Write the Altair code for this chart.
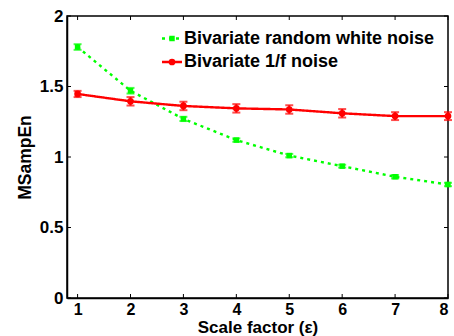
import altair as alt
import pandas as pd

scales = [1, 2, 3, 4, 5, 6, 7, 8]
white_mean = [1.78, 1.47, 1.27, 1.12, 1.01, 0.935, 0.86, 0.805]
white_err = [0.02, 0.02, 0.015, 0.012, 0.012, 0.01, 0.012, 0.012]
pink_mean = [1.447, 1.395, 1.362, 1.345, 1.337, 1.31, 1.29, 1.29]
pink_err = [0.022, 0.03, 0.03, 0.03, 0.03, 0.03, 0.028, 0.028]
series_names = ["Bivariate random white noise", "Bivariate 1/f noise"]
series_colors = ["#00ff00", "#ff0000"]
x_ticks = [1, 2, 3, 4, 5, 6, 7, 8]
y_ticks = [0, 0.5, 1, 1.5, 2]

W, H = 381, 282
FONT = "Liberation Sans"

rows = []
for name, means, errs in [(series_names[0], white_mean, white_err),
                          (series_names[1], pink_mean, pink_err)]:
    for s, m, e in zip(scales, means, errs):
        rows.append({"scale": s, "value": m, "lo": m - e, "hi": m + e, "series": name})
df = pd.DataFrame(rows)
dfw = df[df.series == series_names[0]]
dfp = df[df.series == series_names[1]]

xs = alt.Scale(domain=[0.8, 8], nice=False, zero=False)
ys = alt.Scale(domain=[0, 2], nice=False)

xax = alt.Axis(values=x_ticks, ticks=False, grid=False, labelFont=FONT, labelFontSize=16,
               labelFontWeight="bold", labelColor="black", labelPadding=3, domainColor="black",
               domainWidth=1.5, title="Scale factor (ε)", titleFont=FONT, titleFontSize=17,
               titleFontWeight="bold", titleColor="black", titleY=34, titleBaseline="alphabetic")
yax = alt.Axis(values=y_ticks, ticks=False, grid=False, format=".1~f", labelFont=FONT,
               labelFontSize=17, labelFontWeight="bold", labelColor="black", labelPadding=4,
               domainColor="black", domainWidth=1.5, title="MSampEn", titleFont=FONT,
               titleFontSize=17.5, titleFontWeight="bold", titleColor="black",
               titleX=-37, titleY=141, titleBaseline="alphabetic", titleAlign="center")

base_x = alt.X("scale:Q", scale=xs, axis=xax)
base_y = alt.Y("value:Q", scale=ys, axis=yax)

layers = []
for sub, col, dash, shape, size in [(dfw, series_colors[0], [3, 4], "square", 30),
                                    (dfp, series_colors[1], [1, 0], "circle", 45)]:
    b = alt.Chart(sub)
    layers.append(b.mark_line(color=col, strokeWidth=2.4, strokeDash=dash).encode(x=base_x, y=base_y))
    layers.append(b.mark_rule(color=col, strokeWidth=2).encode(
        x=alt.X("scale:Q", scale=xs), y=alt.Y("lo:Q", scale=ys), y2="hi:Q"))
    layers.append(b.mark_tick(color=col, orient="horizontal", size=8, thickness=2).encode(
        x=alt.X("scale:Q", scale=xs), y=alt.Y("lo:Q", scale=ys)))
    layers.append(b.mark_tick(color=col, orient="horizontal", size=8, thickness=2).encode(
        x=alt.X("scale:Q", scale=xs), y=alt.Y("hi:Q", scale=ys)))
    layers.append(b.mark_point(color=col, filled=True, opacity=1, shape=shape, size=size).encode(
        x=alt.X("scale:Q", scale=xs), y=alt.Y("value:Q", scale=ys)))

# inward ticks (MATLAB style) on all four sides
xt = alt.Chart(pd.DataFrame({"t": x_ticks}))
yt = alt.Chart(pd.DataFrame({"t": y_ticks}))
tick_style = dict(color="black", strokeWidth=1)
layers.append(xt.mark_rule(**tick_style).encode(x=alt.X("t:Q", scale=xs), y=alt.value(H), y2=alt.value(H - 4)))
layers.append(xt.mark_rule(**tick_style).encode(x=alt.X("t:Q", scale=xs), y=alt.value(0), y2=alt.value(4)))
layers.append(yt.mark_rule(**tick_style).encode(y=alt.Y("t:Q", scale=ys), x=alt.value(0), x2=alt.value(4)))
layers.append(yt.mark_rule(**tick_style).encode(y=alt.Y("t:Q", scale=ys), x=alt.value(W), x2=alt.value(W - 4)))

# legend
leg_y = [22.5, 46]
leg_dash = [[3, 4], [1, 0]]
leg_shape = ["square", "circle"]
leg_size = [30, 45]
one = alt.Chart(pd.DataFrame({"a": [0]}))
for i in range(2):
    layers.append(one.mark_rule(color=series_colors[i], strokeWidth=2.4, strokeDash=leg_dash[i]).encode(
        x=alt.value(95), x2=alt.value(115), y=alt.value(leg_y[i])))
    layers.append(one.mark_point(color=series_colors[i], filled=True, opacity=1, shape=leg_shape[i],
                                 size=leg_size[i]).encode(x=alt.value(105), y=alt.value(leg_y[i])))
    layers.append(one.mark_text(text=series_names[i], align="left", baseline="middle", font=FONT,
                                fontSize=18, fontWeight="bold", color="black").encode(
        x=alt.value(117), y=alt.value(leg_y[i])))

chart = alt.layer(*layers).properties(
    width=W, height=H,
    autosize=alt.AutoSizeParams(type="none"),
    padding={"left": 67, "top": 16, "right": 6, "bottom": 38},
    background="white",
).configure_view(stroke="black", strokeWidth=1.5)

chart.save("out.html", embed_options={"renderer": "svg", "actions": False})
